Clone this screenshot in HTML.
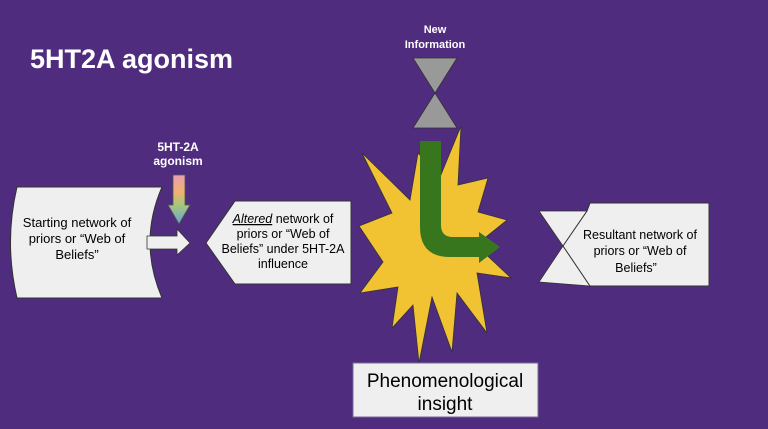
<!DOCTYPE html>
<html><head><style>
body{margin:0;background:#4f2c7e;}
svg{display:block;font-family:"Liberation Sans",sans-serif;}
</style></head><body>
<svg width="768" height="429" viewBox="0 0 768 429">
<defs><linearGradient id="rb" x1="0" y1="0" x2="0" y2="1">
<stop offset="0" stop-color="#e8a0b0"/><stop offset="0.35" stop-color="#f0b070"/><stop offset="0.6" stop-color="#a8c878"/><stop offset="1" stop-color="#6aa0d8"/></linearGradient></defs>
<rect width="768" height="429" fill="#4f2c7e"/>
<text x="30" y="68" fill="#fff" font-size="27" font-weight="bold">5HT2A agonism</text>
<text x="178" y="151" fill="#fff" font-size="12" font-weight="bold" text-anchor="middle">5HT-2A</text>
<text x="178" y="165" fill="#fff" font-size="12" font-weight="bold" text-anchor="middle">agonism</text>
<polygon points="173,175 185,175 185,205 190,205 179,224 168,205 173,205" fill="url(#rb)" stroke="#555" stroke-width="0.8"/>
<path d="M17,187 L162,187 Q138,242 162,298 L17,298 Q4,242 17,187 Z" fill="#efefef" stroke="#333" stroke-width="1"/>
<text font-size="13" fill="#000" text-anchor="middle"><tspan x="77" y="227">Starting network of</tspan><tspan x="77" y="243">priors or “Web of</tspan><tspan x="77" y="259">Beliefs”</tspan></text>
<polygon points="147,236 177,236 177,229 190,243 177,255 177,249 147,249" fill="#efefef" stroke="#333" stroke-width="0.8"/>
<polygon points="206,243 235,201 351,201 351,284 235,284" fill="#efefef" stroke="#333" stroke-width="1"/>
<text font-size="12.5" fill="#000" text-anchor="middle"><tspan x="283" y="223"><tspan font-style="italic" text-decoration="underline">Altered</tspan> network of</tspan><tspan x="283" y="238">priors or “Web of</tspan><tspan x="283" y="253">Beliefs” under 5HT-2A</tspan><tspan x="283" y="268">influence</tspan></text>
<text x="435" y="33" fill="#fff" font-size="11" font-weight="bold" text-anchor="middle">New</text>
<text x="435" y="48" fill="#fff" font-size="11" font-weight="bold" text-anchor="middle">Information</text>
<polygon points="413,58 457,58 435,93 457,128 413,128 435,93" fill="#999" stroke="#333" stroke-width="0.8"/>
<polygon points="461,126 458,185 488,178 478,212 507,220 476,245 511,278 477,273 487,333 457,293 452,352 432,297 419,363 413,305 392,328 398,287 360,293 383,262 359,226 392,213 362,153 410,200 418,153 440,177" fill="#f1c232" stroke="#333" stroke-width="0.8"/>
<path d="M420,141 L441,141 L441,225 Q441,237 453,237 L479,237 L479,232 L500,247 L479,263 L479,257 L450,257 Q420,257 420,227 Z" fill="#38761d"/>
<rect x="353" y="363" width="185" height="54" fill="#efefef" stroke="#7a6a9a" stroke-width="1"/>
<text font-size="19" fill="#000" text-anchor="middle"><tspan x="445" y="387">Phenomenological</tspan><tspan x="445" y="410">insight</tspan></text>
<polygon points="539,211 587,211 563,246 590,286 539,282 563,246" fill="#efefef" stroke="#333" stroke-width="0.8"/>
<polygon points="590,203 709,203 709,286 590,286 563,246 587,211" fill="#efefef" stroke="#333" stroke-width="1"/>
<text font-size="12.5" fill="#000" text-anchor="middle"><tspan x="640" y="239">Resultant network of</tspan><tspan x="640" y="255">priors or “Web of</tspan><tspan x="636" y="272">Beliefs”</tspan></text>
</svg>
</body></html>
